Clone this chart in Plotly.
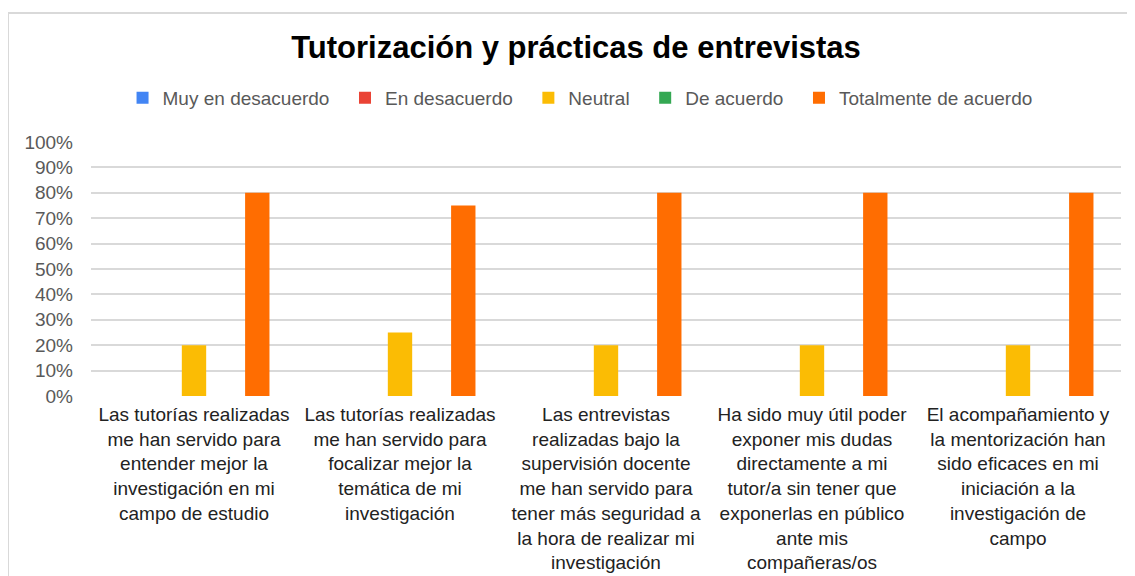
import plotly.graph_objects as go

categories = [
    "Las tutorías realizadas<br>me han servido para<br>entender mejor la<br>investigación en mi<br>campo de estudio",
    "Las tutorías realizadas<br>me han servido para<br>focalizar mejor la<br>temática de mi<br>investigación",
    "Las entrevistas<br>realizadas bajo la<br>supervisión docente<br>me han servido para<br>tener más seguridad a<br>la hora de realizar mi<br>investigación",
    "Ha sido muy útil poder<br>exponer mis dudas<br>directamente a mi<br>tutor/a sin tener que<br>exponerlas en público<br>ante mis<br>compañeras/os",
    "El acompañamiento y<br>la mentorización han<br>sido eficaces en mi<br>iniciación a la<br>investigación de<br>campo",
]

series_names = ["Muy en desacuerdo", "En desacuerdo", "Neutral", "De acuerdo",
                "Totalmente de acuerdo"]
muy_en_desacuerdo = [0.0, 0.0, 0.0, 0.0, 0.0]
en_desacuerdo = [0.0, 0.0, 0.0, 0.0, 0.0]
neutral = [0.20, 0.25, 0.20, 0.20, 0.20]
de_acuerdo = [0.0, 0.0, 0.0, 0.0, 0.0]
totalmente = [0.80, 0.75, 0.80, 0.80, 0.80]

values = [muy_en_desacuerdo, en_desacuerdo, neutral, de_acuerdo, totalmente]
colors = ["#4285F4", "#EA4335", "#FBBC04", "#34A853", "#FF6D01"]

FONT = "Liberation Sans, Arial, sans-serif"

fig = go.Figure()
for i, (name, vals, color) in enumerate(zip(series_names, values, colors)):
    label = name + ("\u00a0\u00a0" if i < len(series_names) - 1 else "")
    fig.add_trace(go.Bar(name=label, x=categories, y=vals, marker_color=color,
                         marker_line_width=0))

fig.update_layout(
    width=1127, height=568,
    paper_bgcolor="white", plot_bgcolor="white",
    margin=dict(l=83, r=14, t=134, b=180),
    barmode="group", bargap=0.232, bargroupgap=0.23,
    font=dict(family=FONT, size=19, color="#222222"),
    title=dict(text="<b>Tutorización y prácticas de entrevistas</b>",
               x=0.504, xanchor="center", y=1 - 39 / 568, yanchor="middle",
               yref="container",
               font=dict(family=FONT, size=31, color="#000000")),
    legend=dict(orientation="h", x=0.4748, xanchor="center",
                y=1 + (134 - 90) / 254, yanchor="middle",
                font=dict(family=FONT, size=19, color="#595959"),
                itemwidth=30, bgcolor="rgba(0,0,0,0)"),
    showlegend=True,
)

fig.update_yaxes(range=[0, 1], dtick=0.1, tickformat=".0%",
                 showgrid=True, gridcolor="#d9d9d9", gridwidth=1.5,
                 zeroline=False, showline=False, automargin=False,
                 tickfont=dict(family=FONT, size=19, color="#595959"),
                 ticklabelstandoff=17)
fig.update_xaxes(showgrid=False, showline=False, zeroline=False,
                 automargin=False,
                 tickfont=dict(family=FONT, size=19, color="#222222"),
                 ticklabelstandoff=5, tickangle=0)

# outer chart border (top and left edges)
fig.add_shape(type="path", xref="paper", yref="paper",
              path="M -0.0806,-0.72 L -0.0806,1.508 L 1.02,1.508",
              line=dict(color="#d9d9d9", width=2))

fig.write_html("out.html")
